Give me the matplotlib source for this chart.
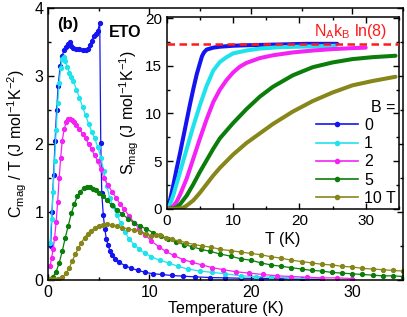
import matplotlib
matplotlib.use("Agg")
import matplotlib.pyplot as plt
from matplotlib.ticker import MultipleLocator

plt.rcParams['font.family'] = ['Liberation Sans', 'DejaVu Sans']
plt.rcParams['mathtext.fontset'] = 'custom'
plt.rcParams['mathtext.rm'] = 'Liberation Sans'
plt.rcParams['mathtext.it'] = 'Liberation Sans:italic'
plt.rcParams['mathtext.bf'] = 'Liberation Sans:bold'

# ---------------- main panel: C_mag / T vs T ----------------
T0 = [0.25,0.4,0.55,0.7,0.85,1.0,1.2,1.4,1.6,1.8,2.0,2.15,2.3,2.5,2.8,3.1,3.4,3.7,3.9,4.1,4.3,4.5,4.7,4.9,5.1,5.2,5.3,5.45,5.6,5.75,5.9,6.1,6.3,6.6,7.0,7.6,8.2,8.9,9.6,10.4,11.2,12.2,13.3,14.5,16,17.5,19,21,23,25,27]
C0 = [0.5,1.0,1.55,2.05,2.5,2.85,3.15,3.3,3.38,3.42,3.47,3.5,3.44,3.41,3.4,3.39,3.38,3.38,3.4,3.45,3.52,3.58,3.62,3.66,3.78,2.02,1.28,0.95,0.75,0.6,0.52,0.43,0.36,0.31,0.26,0.21,0.17,0.14,0.11,0.09,0.08,0.065,0.055,0.045,0.035,0.03,0.025,0.02,0.015,0.01,0.01]

T1 = [0.2,0.35,0.5,0.65,0.8,0.95,1.1,1.25,1.4,1.55,1.7,1.9,2.1,2.3,2.5,2.8,3.1,3.4,3.7,4.0,4.3,4.6,4.9,5.2,5.5,5.8,6.1,6.4,6.8,7.2,7.6,8.0,8.5,9.0,9.6,10.2,11.0,11.9,12.8,13.8,15.0,16.2,17.5,19,20.5,22,23.8,25.5]
C1 = [0.55,0.9,1.3,1.75,2.2,2.6,2.9,3.12,3.25,3.28,3.22,3.13,3.05,2.98,2.93,2.8,2.68,2.55,2.42,2.3,2.18,2.08,1.96,1.8,1.6,1.38,1.2,1.08,0.95,0.83,0.7,0.6,0.52,0.45,0.39,0.34,0.29,0.25,0.2,0.16,0.13,0.11,0.09,0.06,0.05,0.04,0.03,0.02]

T2 = [0.2,0.35,0.5,0.65,0.8,0.95,1.1,1.25,1.4,1.6,1.8,2.0,2.2,2.4,2.6,2.8,3.1,3.4,3.7,4.0,4.3,4.6,4.9,5.2,5.5,5.9,6.3,6.7,7.1,7.5,8.0,8.5,9.0,9.6,10.2,10.9,11.6,12.4,13.3,14.2,15.2,16.2,17.3,18.5,19.8,21.2,22.6,24,25.5,27,28.5,30]
C2 = [0.2,0.32,0.45,0.62,0.85,1.15,1.5,1.8,2.05,2.22,2.32,2.36,2.37,2.35,2.32,2.28,2.22,2.15,2.08,2.0,1.92,1.83,1.75,1.63,1.5,1.4,1.3,1.21,1.12,1.04,0.94,0.84,0.75,0.66,0.57,0.49,0.42,0.36,0.3,0.26,0.22,0.18,0.15,0.12,0.1,0.08,0.06,0.05,0.04,0.03,0.03,0.02]

T5 = [0.2,0.5,0.8,1.1,1.4,1.7,2.0,2.3,2.6,2.9,3.2,3.5,3.8,4.1,4.4,4.7,5.0,5.4,5.8,6.3,6.8,7.3,7.9,8.5,9.1,9.7,10.4,11.1,11.8,12.6,13.4,14.2,15.1,16.0,17.0,18.0,19.0,20.0,21.0,22.0,23.0,24.0,25.0,26.0,27.0,28.0,29.0,30.0,31.0,32.0,33.0,34.0,35.0]
C5 = [0.02,0.05,0.12,0.25,0.42,0.62,0.8,0.98,1.12,1.23,1.3,1.35,1.37,1.36,1.34,1.32,1.28,1.23,1.17,1.1,1.03,0.97,0.9,0.84,0.79,0.75,0.69,0.64,0.6,0.56,0.52,0.49,0.45,0.42,0.38,0.35,0.31,0.29,0.25,0.22,0.2,0.18,0.16,0.14,0.13,0.11,0.1,0.09,0.08,0.07,0.06,0.06,0.05]

T10 = [0.2,0.6,1.0,1.4,1.8,2.1,2.4,2.7,3.0,3.3,3.6,3.9,4.2,4.6,5.0,5.4,5.8,6.3,6.8,7.3,7.9,8.5,9.1,9.7,10.2,10.6,11.0,11.6,12.2,12.9,13.6,14.4,15.2,16.1,17.0,18.0,19.0,20.0,21.0,22.0,23.0,24.0,25.0,26.0,27.0,28.0,29.0,30.0,31.0,32.0,33.0,34.0,35.0]
C10 = [0.01,0.01,0.02,0.04,0.1,0.18,0.28,0.38,0.47,0.55,0.62,0.68,0.72,0.76,0.79,0.81,0.82,0.81,0.79,0.77,0.75,0.73,0.71,0.68,0.64,0.66,0.66,0.62,0.6,0.57,0.55,0.52,0.5,0.48,0.45,0.43,0.41,0.39,0.37,0.34,0.32,0.29,0.27,0.25,0.23,0.22,0.2,0.19,0.17,0.16,0.15,0.14,0.13]

# ---------------- inset: S_mag vs T ----------------
ST0 = [0,0.5,1,1.5,2,2.5,3,3.5,4,4.5,5,5.3,5.6,6,7,8,10,12,15,18,21,24,25.7]
S0 = [0.1,1.0,2.6,4.3,5.9,7.6,9.3,11.0,12.6,14.1,15.3,16.0,16.4,16.7,16.9,17.0,17.1,17.15,17.2,17.25,17.3,17.3,17.3]

ST1 = [0,0.5,1,1.5,2,3,4,5,6,7,8,9,10,12,14,17,20,23,25.5]
S1 = [0,0.5,1.5,2.7,3.9,6.3,8.7,10.9,12.9,14.5,15.4,15.9,16.3,16.6,16.8,16.95,17.0,17.05,17.1]

ST2 = [0,0.5,1,1.5,2,3,4,5,6,7,8,9,10,11,12,14,16,19,22,25,28,30]
S2 = [0,0.1,0.3,0.8,1.5,3.2,5.3,7.4,9.4,11.2,12.5,13.5,14.3,14.9,15.3,15.8,16.1,16.4,16.6,16.75,16.85,16.9]

ST5 = [0,1,1.5,2,3,4,5,6,7,8,10,12,14,16,19,22,25,28,31,34.5]
S5 = [0,0.05,0.2,0.5,1.4,2.6,3.9,5.1,6.3,7.4,9.0,10.45,11.75,12.8,14.0,14.85,15.35,15.7,15.9,16.05]

ST10 = [0,1,2,2.5,3,4,5,6,7,8,10,12,14,16,19,22,25,28,31,34.5]
S10 = [0,0,0.05,0.15,0.35,0.9,1.7,2.6,3.5,4.3,5.7,6.9,7.9,8.9,10.2,11.3,12.2,12.95,13.4,13.85]

S_LIMIT = 17.29  # N_A k_B ln(8)

labels = ['0', '1', '2', '5', '10 T']
colors = ['#1414f0', '#1fe3ec', '#f422f4', '#0a7d0a', '#86861a']

fig = plt.figure(figsize=(4.07, 3.17), dpi=100)
ax = fig.add_axes([0.118, 0.117, 0.872, 0.858])

main_T = [T0, T1, T2, T5, T10]
main_C = [C0, C1, C2, C5, C10]
for t, c, col in zip(main_T, main_C, colors):
    ax.plot(t, c, '-o', color=col, lw=0.9, ms=2.8, mec=col, mfc=col)

ax.set_xlim(0, 35)
ax.set_ylim(0, 4)
ax.xaxis.set_major_locator(MultipleLocator(10))
ax.xaxis.set_minor_locator(MultipleLocator(5))
ax.yaxis.set_major_locator(MultipleLocator(1))
ax.yaxis.set_minor_locator(MultipleLocator(0.5))
ax.tick_params(which='both', direction='in', top=True, right=True, labelsize=11.5, width=1)
ax.tick_params(which='major', length=4)
ax.tick_params(which='minor', length=2.5)
for s in ax.spines.values():
    s.set_linewidth(1.1)
ax.set_xlabel('Temperature (K)', fontsize=11.5, labelpad=1)
ax.set_ylabel(r'C$_{\rm mag}$ / T (J mol$^{-1}$K$^{-2}$)', fontsize=11.5, labelpad=4)
ax.text(0.056, 0.94, '(b)', transform=ax.transAxes, fontsize=12, fontweight='bold',
        ha='center', va='center')
ax.text(0.217, 0.908, 'ETO', transform=ax.transAxes, fontsize=11.5, fontweight='bold',
        ha='center', va='center')

# inset
ins = fig.add_axes([0.410, 0.341, 0.570, 0.605])
ins.set_facecolor('white')
ins_T = [ST0, ST1, ST2, ST5, ST10]
ins_S = [S0, S1, S2, S5, S10]
handles = []
for t, s, col, lab in zip(ins_T, ins_S, colors, labels):
    ins.plot(t, s, '-', color=col, lw=2.9, zorder=2, solid_capstyle='round')
    h, = ins.plot([], [], '-o', color=col, lw=1.2, ms=3, label=lab)
    handles.append(h)
ins.axhline(S_LIMIT, color='#ff1a1a', lw=1.8, ls=(0, (3, 1.8)), zorder=3)
ins.text(0.79, 0.925, r'N$_{\rm A}$k$_{\rm B}$ ln(8)', transform=ins.transAxes,
         color='#ff1a1a', fontsize=11.5, ha='center', va='center')
ins.set_xlim(0, 35)
ins.set_ylim(0, 20.1)
ins.xaxis.set_major_locator(MultipleLocator(10))
ins.xaxis.set_minor_locator(MultipleLocator(5))
ins.yaxis.set_major_locator(MultipleLocator(5))
ins.yaxis.set_minor_locator(MultipleLocator(2.5))
ins.tick_params(which='both', direction='in', top=True, right=True, labelsize=11, width=1)
ins.tick_params(which='major', length=4)
ins.tick_params(which='minor', length=2.5)
for s in ins.spines.values():
    s.set_linewidth(1.1)
ins.set_xlabel('T (K)', fontsize=11.5, labelpad=3)
ins.set_ylabel(r'S$_{\rm mag}$ (J mol$^{-1}$K$^{-1}$)', fontsize=11.5, labelpad=3)
leg = ins.legend(handles=handles, loc='lower right', frameon=False, fontsize=11.5,
                 title='B =', title_fontsize=11.5, alignment='right',
                 handlelength=2.6, handletextpad=0.4, labelspacing=0.2,
                 borderaxespad=0.1, borderpad=0.1)

fig.savefig('out.png', dpi=100)
